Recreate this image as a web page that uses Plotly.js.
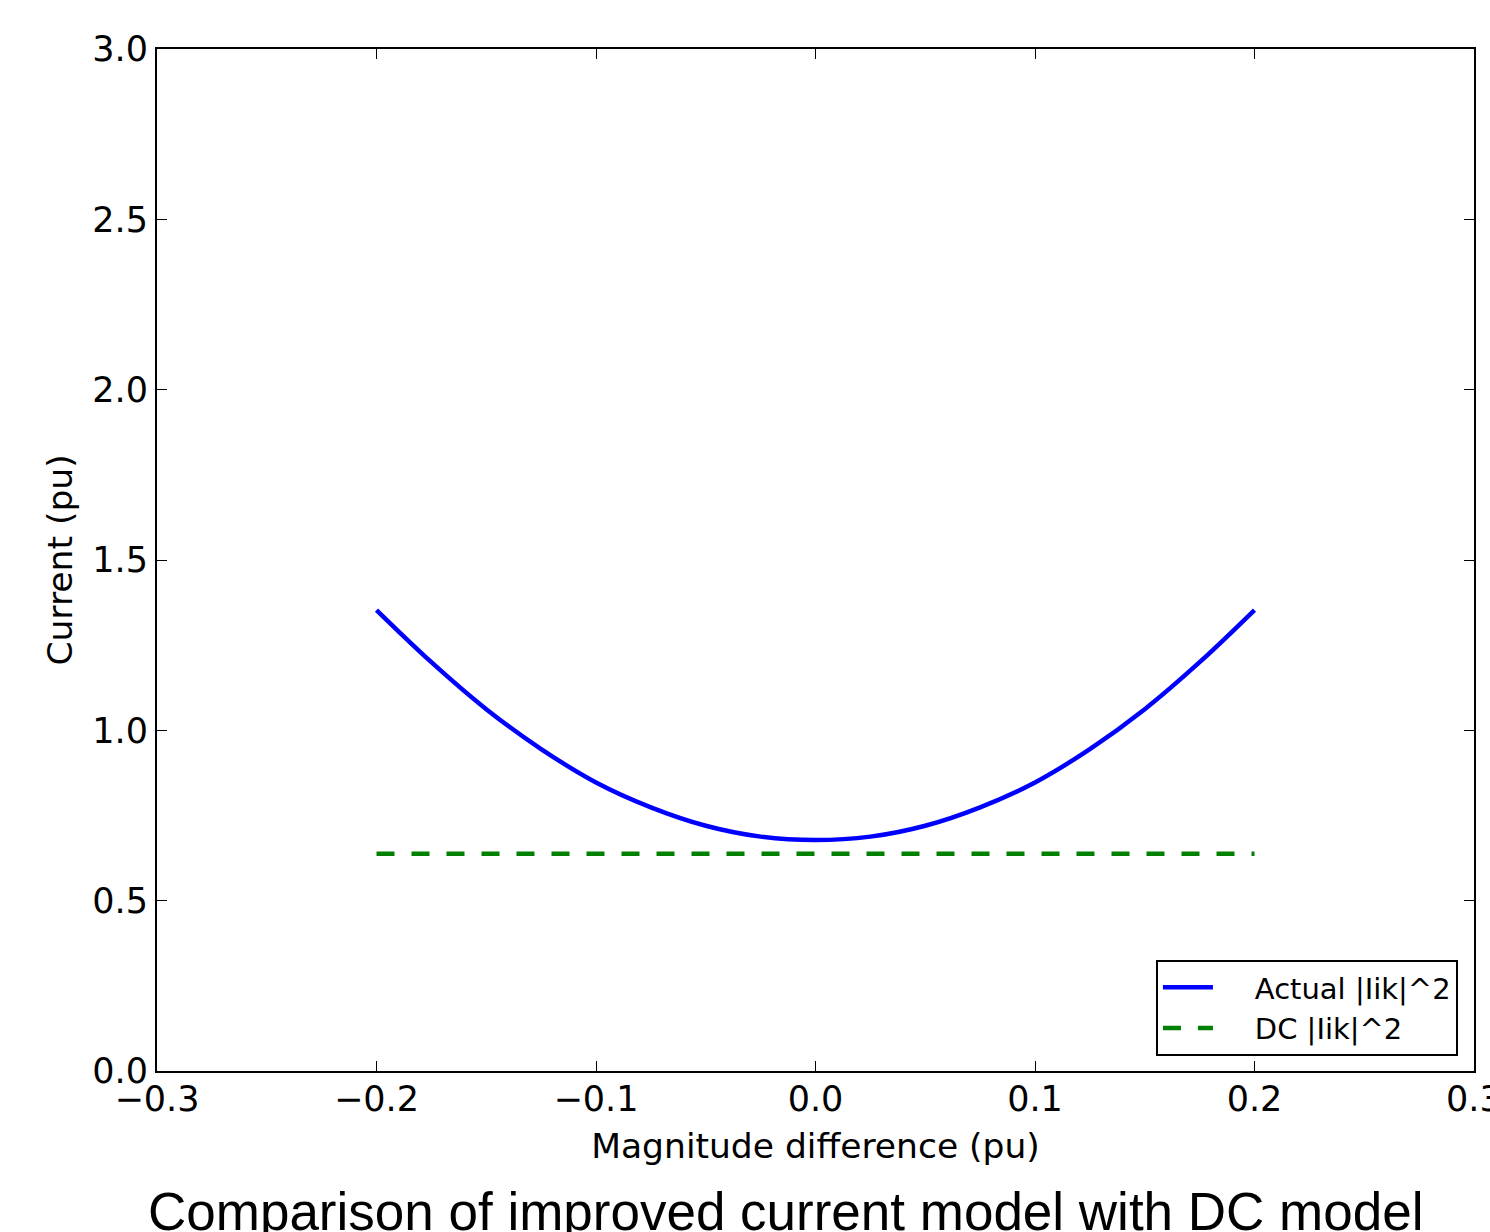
<!DOCTYPE html>
<html>
<head>
<meta charset="utf-8">
<script src="https://cdn.plot.ly/plotly-3.0.1.min.js"></script>
<style>html,body{margin:0;padding:0;background:#fff;}#chart{width:1490px;height:1232px;}</style>
</head>
<body>
<div id="chart"></div>
<script>
// Data
const magnitudeDiff = [-0.2, -0.175, -0.15, -0.125, -0.1, -0.075, -0.05, -0.025, 0, 0.025, 0.05, 0.075, 0.1, 0.125, 0.15, 0.175, 0.2];
const actualCurrent = [1.353, 1.200, 1.062, 0.945, 0.847, 0.774, 0.720, 0.688, 0.678, 0.688, 0.720, 0.774, 0.847, 0.945, 1.062, 1.200, 1.353];
const dcCurrent = [0.638, 0.638, 0.638, 0.638, 0.638, 0.638, 0.638, 0.638, 0.638, 0.638, 0.638, 0.638, 0.638, 0.638, 0.638, 0.638, 0.638];
const seriesNames = ["Actual |Iik|^2", "DC |Iik|^2"];
const xTicks = [-0.3, -0.2, -0.1, 0.0, 0.1, 0.2, 0.3];
const xTickText = ["\u22120.3", "\u22120.2", "\u22120.1", "0.0", "0.1", "0.2", "0.3"];
const yTicks = [0.0, 0.5, 1.0, 1.5, 2.0, 2.5, 3.0];
const chartCaption = "Comparison of improved current model with DC model";

const FONT = "DejaVu Sans, Verdana, sans-serif";
const PAD = "\u00a0\u00a0\u00a0\u00a0";

const traces = [
  {
    x: magnitudeDiff, y: actualCurrent, name: PAD + seriesNames[0],
    type: "scatter", mode: "lines",
    line: {color: "#0000ff", width: 4.5, shape: "spline", smoothing: 1}
  },
  {
    x: magnitudeDiff, y: dcCurrent, name: PAD + seriesNames[1],
    type: "scatter", mode: "lines",
    line: {color: "#008000", width: 4.5, dash: "18px,17px"}
  }
];

const axisCommon = {
  showgrid: false, zeroline: false,
  showline: true, linecolor: "#000", linewidth: 2, mirror: "ticks",
  ticks: "inside", ticklen: 10, tickwidth: 1, tickcolor: "#000",
  tickfont: {family: FONT, size: 35, color: "#000"},
  automargin: false
};

// The last x tick label overflows the figure edge (cut off as in the reference);
// Plotly hides such labels, so it is drawn as an annotation at its data position.
const lastIdx = xTicks.length - 1;

const layout = {
  width: 1490, height: 1232,
  paper_bgcolor: "#fff", plot_bgcolor: "#fff",
  margin: {l: 157, r: 16, t: 49, b: 161},
  font: {family: FONT, color: "#000"},
  xaxis: Object.assign({}, axisCommon, {
    range: [-0.3, 0.3000001], tickmode: "array", tickvals: xTicks, ticktext: xTickText,
    ticklabelstandoff: -4,
    title: {text: "Magnitude difference (pu)", font: {family: FONT, size: 34.5, color: "#000"}, standoff: 16}
  }),
  yaxis: Object.assign({}, axisCommon, {
    range: [0, 3], tickmode: "array", tickvals: yTicks, tickformat: ".1f",
    title: {text: "Current (pu)", font: {family: FONT, size: 34.5, color: "#000"}, standoff: 9}
  }),
  showlegend: true,
  legend: {
    x: 0.7585, xanchor: "left", y: 0.1086, yanchor: "top",
    bgcolor: "#fff", bordercolor: "#000", borderwidth: 2,
    font: {family: FONT, size: 29, color: "#000"},
    itemwidth: 50
  },
  annotations: [
    {
      text: chartCaption, xref: "paper", yref: "paper",
      x: 0.4776, xanchor: "center", y: -0.137, yanchor: "middle",
      showarrow: false,
      font: {family: "Liberation Sans, Arial, sans-serif", size: 53, color: "#000"}
    },
    {
      text: xTickText[lastIdx], xref: "x", yref: "paper",
      x: xTicks[lastIdx], xanchor: "center", y: 0, yanchor: "middle", yshift: -28,
      showarrow: false,
      font: {family: FONT, size: 35, color: "#000"}
    }
  ]
};

Plotly.newPlot("chart", traces, layout, {displayModeBar: false, staticPlot: true});
</script>
</body>
</html>
